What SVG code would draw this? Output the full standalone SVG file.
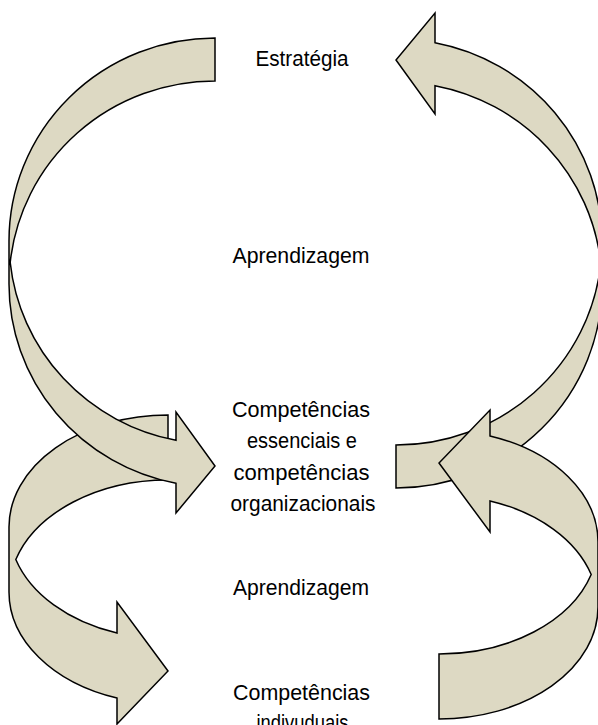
<svg xmlns="http://www.w3.org/2000/svg" width="598" height="725" viewBox="0 0 598 725">
  <style>
    .arrow { fill: #DDD9C3; stroke: #000000; stroke-width: 1.5; stroke-linejoin: miter; }
    .label { font-family: "Liberation Sans Narrow", "Arial Narrow", "Liberation Sans", Arial, sans-serif; font-size: 22px; fill: #000000; text-anchor: middle; }
  </style>
  <defs>
    <path id="bigArrow" d="M215,38 A206,203 0 0 0 9,241 L9,284 A206,203 0 0 0 176,483.3 L176,513 L215,466 L176,412 L176,440.3 A206,203 0 0 1 10.2,262.5 A206,203 0 0 1 215,81 Z"/>
    <path id="smallArrow" d="M168,415 A159,112 0 0 0 9,527 L9,592 A159,112 0 0 0 117,698.1 L117,724 L168,671 L117,602 L117,633.1 A159,112 0 0 1 15.8,559.5 A159,112 0 0 1 168,480 Z"/>
  </defs>
  <rect x="0" y="0" width="598" height="725" fill="#FFFFFF"/>
  <g id="connectors">
    <use id="arrow-individual-to-organizational" href="#smallArrow" class="arrow"/>
    <use id="arrow-strategy-to-organizational" href="#bigArrow" class="arrow"/>
    <use id="arrow-organizational-to-strategy" href="#bigArrow" class="arrow" transform="matrix(-1,0,0,-1,611,526)"/>
    <use id="arrow-organizational-to-individual" href="#smallArrow" class="arrow" transform="matrix(-1,0,0,-1,607,1134)"/>
  </g>
  <g id="node-estrategia">
    <text class="label" x="302" y="66" textLength="93" lengthAdjust="spacingAndGlyphs">Estratégia</text>
  </g>
  <g id="node-aprendizagem-1">
    <text class="label" x="301" y="263" textLength="137" lengthAdjust="spacingAndGlyphs">Aprendizagem</text>
  </g>
  <g id="node-competencias-organizacionais">
    <text class="label" x="301" y="417" textLength="138" lengthAdjust="spacingAndGlyphs">Competências</text>
    <text class="label" x="302" y="448" textLength="110" lengthAdjust="spacingAndGlyphs">essenciais e</text>
    <text class="label" x="301.5" y="480" textLength="136" lengthAdjust="spacingAndGlyphs">competências</text>
    <text class="label" x="303" y="511" textLength="145" lengthAdjust="spacingAndGlyphs">organizacionais</text>
  </g>
  <g id="node-aprendizagem-2">
    <text class="label" x="301" y="595" textLength="136" lengthAdjust="spacingAndGlyphs">Aprendizagem</text>
  </g>
  <g id="node-competencias-individuais">
    <text class="label" x="301.5" y="700" textLength="137" lengthAdjust="spacingAndGlyphs">Competências</text>
    <text class="label" x="302.5" y="730" textLength="92" lengthAdjust="spacingAndGlyphs">indivuduais</text>
  </g>
</svg>
